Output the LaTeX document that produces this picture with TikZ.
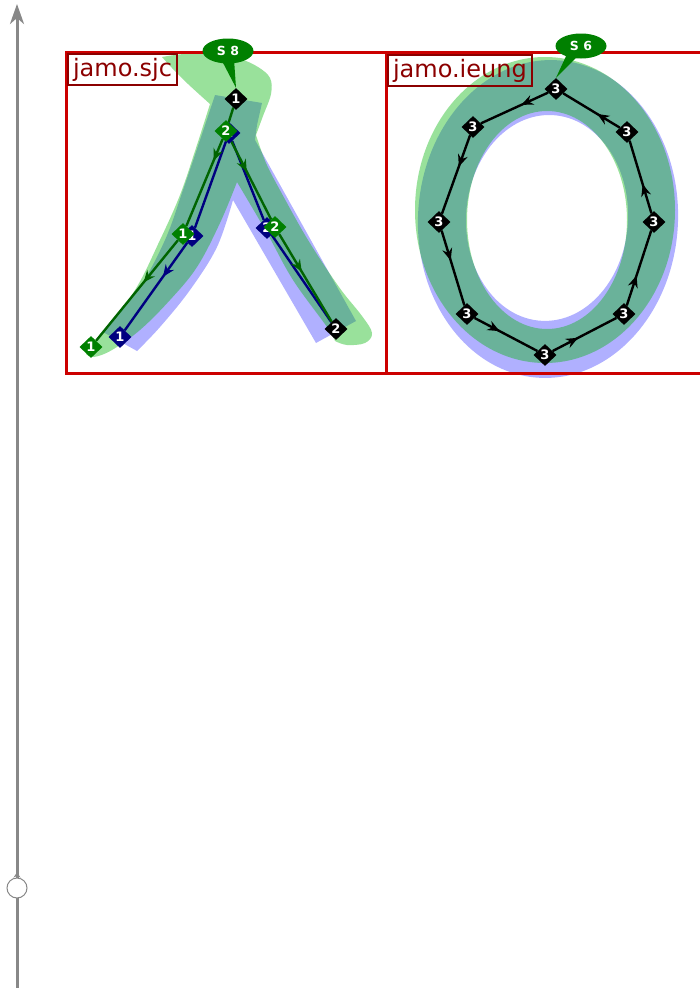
\documentclass[tikz,border=0pt]{standalone}
\usepackage{fontspec}
\newfontfamily\djs{DejaVu Sans}
\usetikzlibrary{shapes.geometric, arrows.meta, decorations.markings, calc}
\definecolor{boxred}{RGB}{204,0,0}
\definecolor{labred}{RGB}{139,0,0}
\definecolor{glyphgreen}{RGB}{0,180,5}
\definecolor{glyphblue}{RGB}{0,0,255}
\definecolor{linegreen}{RGB}{0,100,0}
\definecolor{linenavy}{RGB}{0,0,128}
\definecolor{nodegreen}{RGB}{0,128,0}
\definecolor{axisgray}{RGB}{136,136,136}
\pgfdeclarelayer{glyph}
\pgfdeclarelayer{lines}
\pgfsetlayers{glyph,lines,main}
\tikzset{
  gfill/.style={fill=glyphgreen, fill opacity=0.4},
  bfill/.style={fill=glyphblue, fill opacity=0.31},
  frame/.style={draw=boxred, line width=3pt},
  labelbox/.style={draw=labred, line width=2pt, text=labred, font=\djs\fontsize{24}{28}\selectfont, inner xsep=5pt, inner ysep=2.5pt, text height=20pt, text depth=6pt, anchor=north west},
  dia/.style={diamond, minimum width=23pt, minimum height=22pt, inner sep=0pt, text=white, font=\djs\bfseries\fontsize{13}{13}\selectfont},
  kdia/.style={dia, fill=black},
  gdia/.style={dia, fill=nodegreen},
  bdia/.style={dia, fill=linenavy},
  callout/.style={ellipse, fill=nodegreen, text=white, minimum width=51pt, minimum height=25pt, inner sep=0pt, font=\djs\bfseries\fontsize{12.5}{12.5}\selectfont},
  midarrow/.style={postaction={decorate}, decoration={markings, mark=at position #1 with {\arrow{Stealth[length=12pt,width=10pt,inset=4pt]}}}},
  greenline/.style={color=linegreen, line width=2.4pt},
  navyline/.style={color=linenavy, line width=2.4pt},
  blackline/.style={color=black, line width=2.4pt},
  axisline/.style={color=axisgray, line width=3pt}
}
\begin{document}
\begin{tikzpicture}[x=1pt, y=-1pt]
\useasboundingbox (0,0) rectangle (700,988);

% ---------- glyph shapes ----------
\begin{pgfonlayer}{glyph}
% jamo.sjc, blue
\fill[bfill] (215,95) -- (262,103) -- (257,125) -- (255,140) -- (356,321) -- (316,343) -- (233,200)
  -- plot[smooth, tension=0.6] coordinates {(233,200) (217,247) (190,290) (160,327) (137,351)}
  -- (103,332)
  -- plot[smooth, tension=0.6] coordinates {(103,332) (138,290) (165,240) (183,190) (200,140) (215,95)}
  -- cycle;
% jamo.sjc, green
\fill[gfill] plot[smooth, tension=0.6] coordinates {(86,354) (103,331) (135,290) (160,240) (180,195) (196,148) (210,104)}
  -- plot[smooth, tension=0.6] coordinates {(210,104) (188,84) (172,68) (162,57)}
  -- plot[smooth, tension=0.6] coordinates {(162,57) (185,54) (215,55) (240,59) (258,67) (270,78) (271,94) (263,116) (256,135)}
  -- plot[smooth, tension=0.6] coordinates {(256,135) (266,163) (281,192) (308,240) (339,287) (362,316) (372,333) (365,343) (347,345) (335,341)}
  -- plot[smooth, tension=0.6] coordinates {(335,341) (327,327) (293,280) (267,233) (237,182)}
  -- plot[smooth, tension=0.6] coordinates {(237,182) (220,223) (197,267) (170,300) (140,330) (112,350) (94,357) (86,354)}
  -- cycle;
% jamo.ieung
\fill[bfill, even odd rule, rotate around={-3:(548,219)}] (548,219) ellipse [x radius=130pt, y radius=159pt] (547,218) ellipse [x radius=81pt, y radius=103pt];
\fill[gfill, even odd rule] (545,210) ellipse [x radius=130pt, y radius=153pt] (547,220) ellipse [x radius=80pt, y radius=109pt];
\end{pgfonlayer}

% ---------- axis ----------
\coordinate (axb) at (17,990);
\coordinate (axt) at (17,4);
\coordinate (fl) at (17,866);
\draw[axisline, -{Stealth[length=20pt,width=14pt,inset=6pt]}] (axb) -- (axt);
\node[circle, draw=axisgray, fill=white, line width=1pt, minimum size=20pt, inner sep=0pt] (knob) at (17,888) {};
\draw[axisline, -{Stealth[length=5pt,width=7pt,reversed]}] (fl) -- (knob.north);

% ---------- frames and labels ----------
\begin{pgfonlayer}{lines}
\draw[frame] (66,52) rectangle (386,373);
\draw[frame] (386,52) rectangle (704,373);
\end{pgfonlayer}
\node[labelbox] (lab1) at (67,53) {jamo.sjc};
\node[labelbox] (lab2) at (387,54) {jamo.ieung};

% ---------- jamo.sjc nodes ----------
\node[bdia] (b2) at (229,133) {2};
\node[bdia] (b1) at (192,236) {1};
\node[bdia] (b2b) at (267,228) {2};
\node[bdia] (b1e) at (120,337) {1};
\node[gdia] (g2) at (226,131) {2};
\node[gdia] (g1) at (183,234) {1};
\node[gdia] (g2b) at (275,227) {2};
\node[gdia] (g1e) at (91,347) {1};
\node[kdia] (k1) at (236,99) {1};
\node[kdia] (k2) at (336,329) {2};

\begin{pgfonlayer}{lines}
\draw[navyline] (b2) -- (b1);
\draw[navyline, midarrow=0.39] (b1) -- (b1e);
\draw[navyline] (b2) -- (b2b);
\draw[navyline] (b2b) -- (k2);
\draw[greenline] (k1) -- (g2);
\draw[greenline, midarrow=0.25] (g2) -- (g1);
\draw[greenline, midarrow=0.42] (g1) -- (g1e);
\draw[greenline, midarrow=0.41] (g2) -- (g2b);
\draw[greenline, midarrow=0.43] (g2b) -- (k2);
\end{pgfonlayer}

% ---------- jamo.ieung nodes ----------
\node[kdia] (i1) at (556,89) {3};
\node[kdia] (i2) at (473,127) {3};
\node[kdia] (i3) at (439,222) {3};
\node[kdia] (i4) at (467,314) {3};
\node[kdia] (i5) at (545,355) {3};
\node[kdia] (i6) at (624,314) {3};
\node[kdia] (i7) at (654,222) {3};
\node[kdia] (i8) at (627,132) {3};
\begin{pgfonlayer}{lines}
\draw[blackline, midarrow=0.4] (i1) -- (i2);
\draw[blackline, midarrow=0.4] (i2) -- (i3);
\draw[blackline, midarrow=0.4] (i3) -- (i4);
\draw[blackline, midarrow=0.4] (i4) -- (i5);
\draw[blackline, midarrow=0.4] (i5) -- (i6);
\draw[blackline, midarrow=0.4] (i6) -- (i7);
\draw[blackline, midarrow=0.4] (i7) -- (i8);
\draw[blackline, midarrow=0.4] (i8) -- (i1);
\end{pgfonlayer}

% ---------- callouts ----------
\node[callout] (s8) at (228,51) {S 8};
\fill[nodegreen] ($(s8.center)+(-7,8)$) -- ($(s8.center)+(6,8)$) -- (k1.north) -- cycle;
\node[callout] (s6) at (581,46) {S 6};
\fill[nodegreen] ($(s6.center)+(-14,8)$) -- ($(s6.center)+(-1,8)$) -- (i1.north) -- cycle;
\end{tikzpicture}
\end{document}
